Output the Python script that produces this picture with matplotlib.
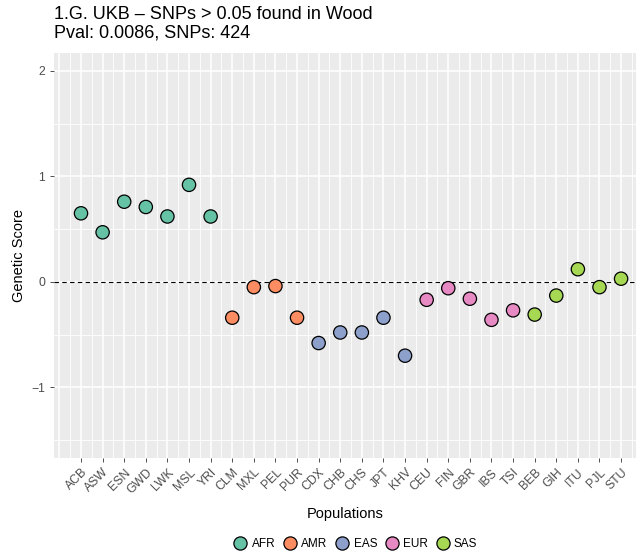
import numpy as np
import matplotlib.pyplot as plt
from matplotlib.lines import Line2D

plt.rcParams['font.family'] = ['Liberation Sans', 'DejaVu Sans']

populations = ['ACB', 'ASW', 'ESN', 'GWD', 'LWK', 'MSL', 'YRI',
               'CLM', 'MXL', 'PEL', 'PUR',
               'CDX', 'CHB', 'CHS', 'JPT', 'KHV',
               'CEU', 'FIN', 'GBR', 'IBS', 'TSI',
               'BEB', 'GIH', 'ITU', 'PJL', 'STU']
superpop = ['AFR'] * 7 + ['AMR'] * 4 + ['EAS'] * 5 + ['EUR'] * 5 + ['SAS'] * 5
scores = [0.65, 0.47, 0.76, 0.71, 0.62, 0.92, 0.62,
          -0.34, -0.05, -0.04, -0.34,
          -0.58, -0.48, -0.48, -0.34, -0.70,
          -0.17, -0.06, -0.16, -0.36, -0.27,
          -0.31, -0.13, 0.12, -0.05, 0.03]
groups = ['AFR', 'AMR', 'EAS', 'EUR', 'SAS']
colors = {'AFR': '#66C2A5', 'AMR': '#FC8D62', 'EAS': '#8DA0CB',
          'EUR': '#E78AC3', 'SAS': '#A6D854'}

fig = plt.figure(figsize=(6.36, 5.52), dpi=100)
ax = fig.add_axes([54/636, 1 - 458/552, 582/636, 405/552])
ax.set_facecolor('#EBEBEB')
for s in ax.spines.values():
    s.set_visible(False)

x = np.arange(len(populations))
ax.set_xlim(-1.25, len(populations) - 0.31)
ax.set_ylim(-1.67, 2.17)

# grid: major + minor
for v in np.arange(-1.5, 2.01, 0.5):
    ax.axhline(v, color='white', lw=1.1 if v % 1 == 0 else 0.6, zorder=0)
for v in np.arange(-1.0, len(populations), 0.5):
    ax.axvline(v, color='white', lw=1.1 if v % 1 == 0 else 0.6, zorder=0)

ax.axhline(0, color='black', lw=0.8, ls=(0, (4, 3)), zorder=1)

cols = [colors[g] for g in superpop]
ax.scatter(x, scores, s=92, c=cols, edgecolors='black', linewidths=0.9, zorder=3)

ax.set_xticks(x)
ax.set_xticklabels(populations, rotation=45, ha='right', va='top',
                   rotation_mode='anchor', fontsize=8.8, color='#4D4D4D')
ax.set_yticks([-1, 0, 1, 2])
ax.set_yticklabels(['\u22121', '0', '1', '2'], fontsize=8.8, color='#4D4D4D')
ax.tick_params(axis='both', length=3, color='#333333', width=0.6)
ax.tick_params(axis='x', pad=3)

ax.set_xlabel('Populations', fontsize=10.5, labelpad=8)
ax.set_ylabel('Genetic Score', fontsize=10.5, labelpad=4)

fig.text(54/636, 1 - 6/552, '1.G. UKB \u2013 SNPs > 0.05 found in Wood\nPval: 0.0086, SNPs: 424',
         fontsize=13, va='top', ha='left', linespacing=1.15)

handles = [Line2D([], [], marker='o', ls='', ms=9.5, markerfacecolor=colors[g],
                  markeredgecolor='black', markeredgewidth=0.9) for g in groups]
fig.legend(handles, groups, loc='center', bbox_to_anchor=(355/636, 1 - 544/552),
           ncol=5, frameon=False, fontsize=8.5, handletextpad=0.3, columnspacing=0.6,
           handlelength=1.3)

fig.savefig('out.png', dpi=100)
